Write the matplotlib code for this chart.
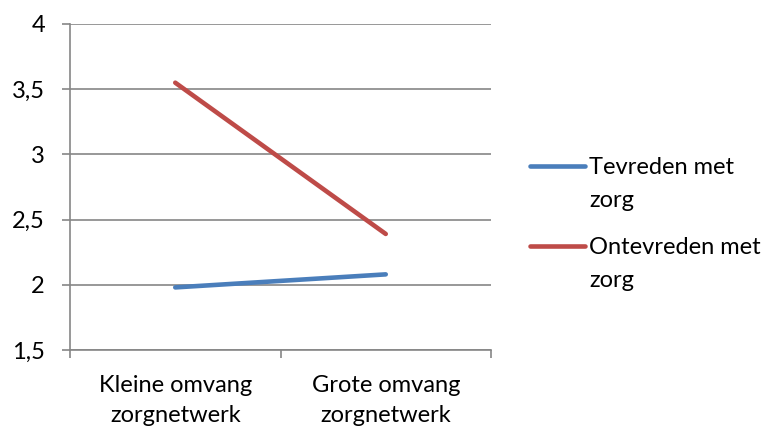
import matplotlib.pyplot as plt
from matplotlib.lines import Line2D
from matplotlib.ticker import FixedLocator, FuncFormatter

categories = ["Kleine omvang\nzorgnetwerk", "Grote omvang\nzorgnetwerk"]
tevreden = [1.98, 2.08]
ontevreden = [3.55, 2.39]
series_names = [["Tevreden met", "zorg"], ["Ontevreden met", "zorg"]]

BLUE = "#4A7EBB"
RED = "#BE4B48"
GRID = "#868686"
FS = 17

plt.rcParams["font.family"] = ["Lato", "DejaVu Sans"]

fig = plt.figure(figsize=(7.71, 4.28), dpi=100)
ax = fig.add_axes([70 / 771, 1 - 350 / 428, 421 / 771, 326 / 428])

x = range(len(categories))
ax.plot(x, tevreden, color=BLUE, lw=3.3, solid_capstyle="round")
ax.plot(x, ontevreden, color=RED, lw=3.3, solid_capstyle="round")

ax.set_xlim(-0.5, len(categories) - 0.5)
ax.set_ylim(1.5, 4)
ax.set_yticks([1.5, 2, 2.5, 3, 3.5, 4])
ax.yaxis.set_major_formatter(FuncFormatter(lambda v, _: f"{v:g}".replace(".", ",")))
ax.grid(axis="y", color=GRID, lw=1.2)
ax.set_axisbelow(True)

ax.set_xticks(list(x))
ax.set_xticklabels(categories, fontsize=FS, linespacing=1.55)
ax.xaxis.set_minor_locator(FixedLocator([-0.5, 0.5, 1.5]))
ax.tick_params(axis="x", which="major", length=0, pad=18)
ax.tick_params(axis="x", which="minor", length=6, color=GRID, width=1.2)
ax.tick_params(axis="y", length=6, color=GRID, width=1.2, labelsize=FS, pad=12)

for side in ["top", "right"]:
    ax.spines[side].set_visible(False)
for side in ["left", "bottom"]:
    ax.spines[side].set_color(GRID)
    ax.spines[side].set_linewidth(1.2)

# legend drawn by hand so the line sits beside the first text line
for i, (lines, color) in enumerate(zip(series_names, [BLUE, RED])):
    y_px = 166 + 80 * i
    fig.add_artist(Line2D([530 / 771, 585 / 771], [1 - y_px / 428] * 2, color=color,
                          lw=3.3, solid_capstyle="round", transform=fig.transFigure))
    for j, line in enumerate(lines):
        fig.text(589 / 771, 1 - (y_px + 8 + 33 * j) / 428, line, fontsize=FS,
                 ha="left", va="baseline")

fig.savefig("out.png", dpi=100)
